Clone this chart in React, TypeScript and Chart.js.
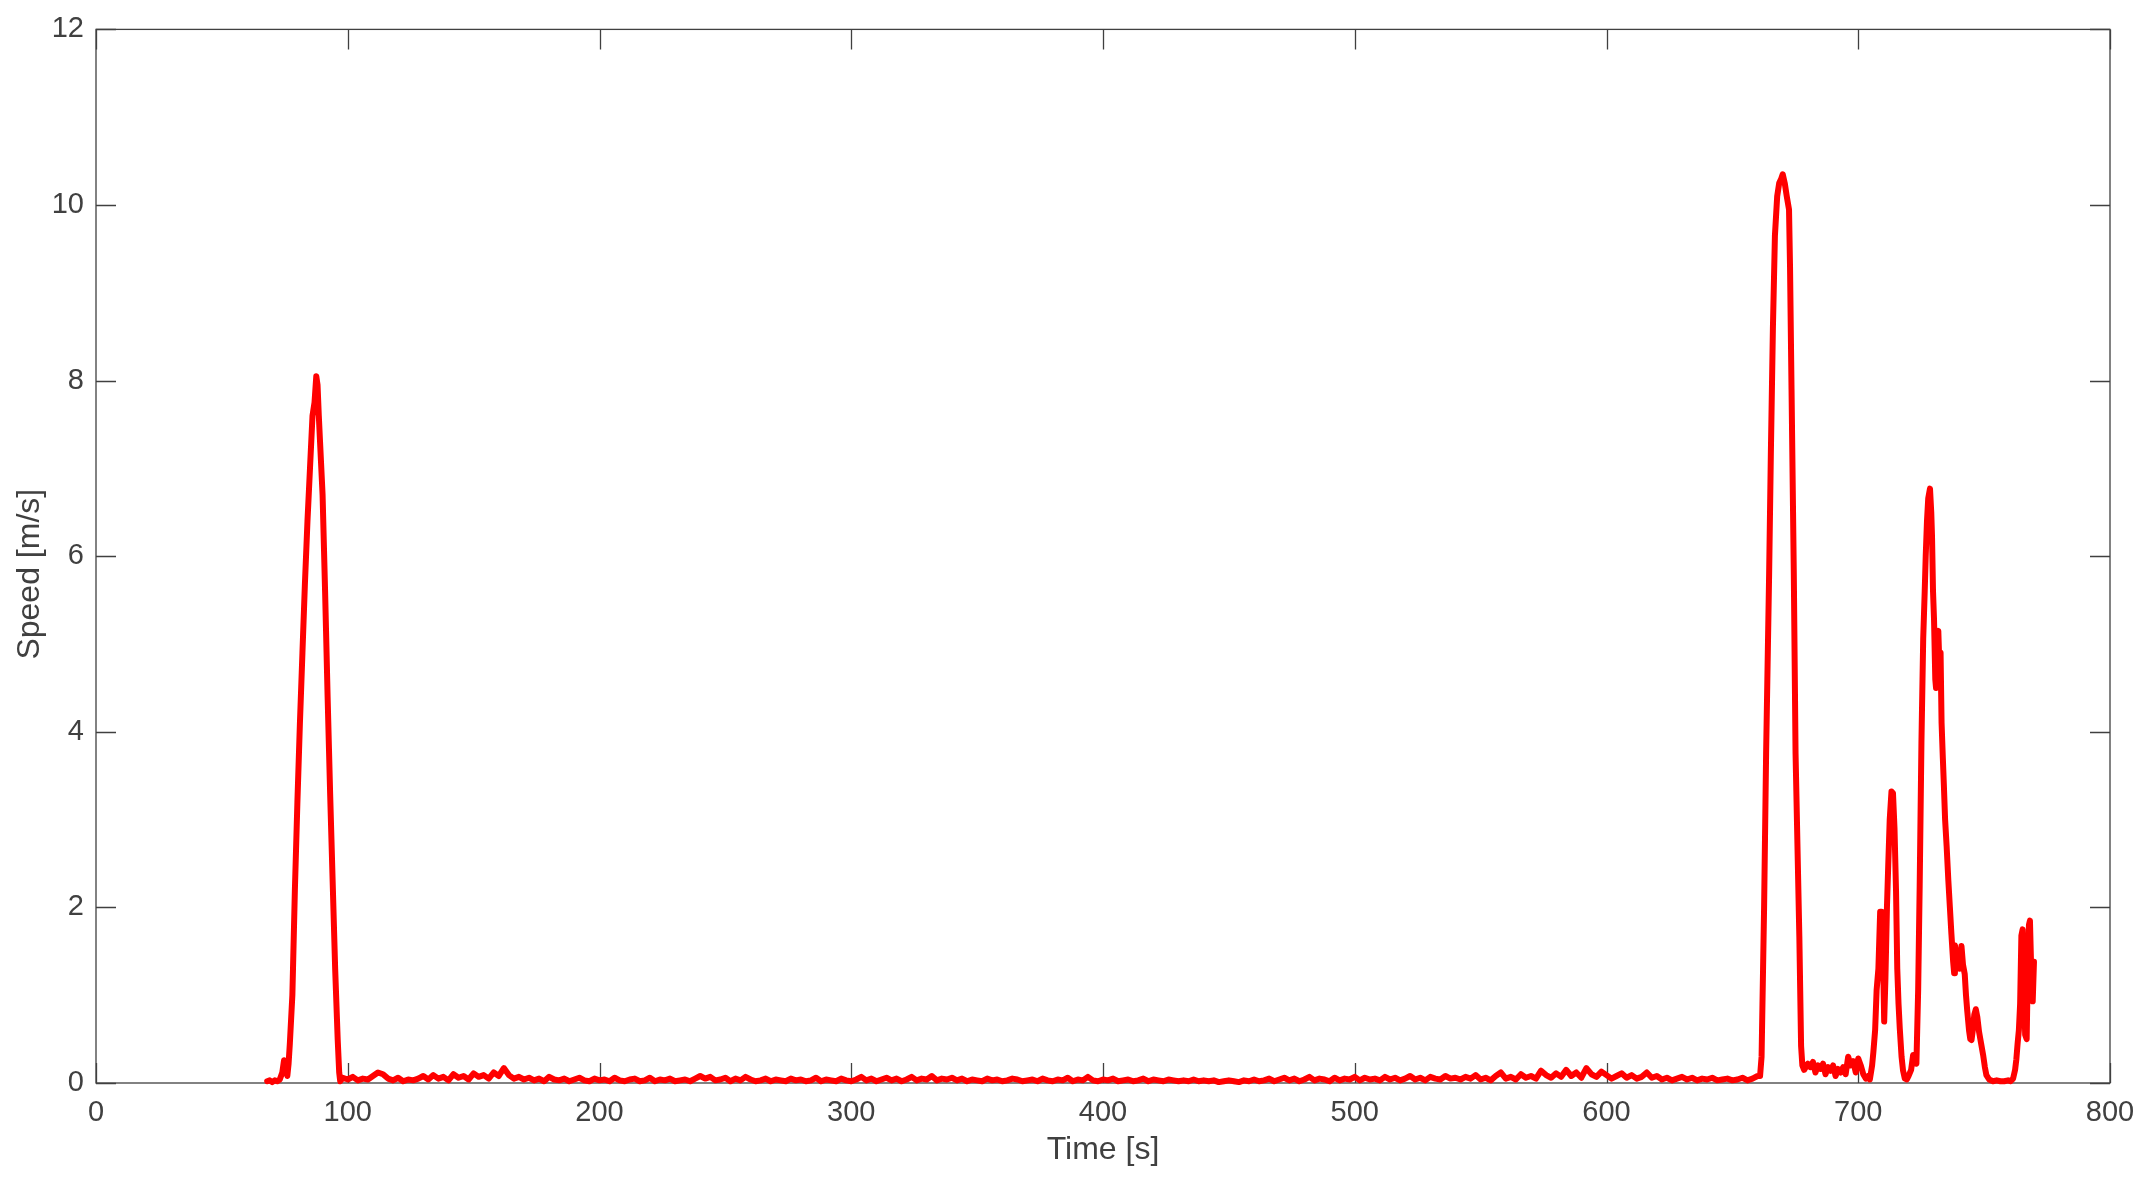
import React, { useEffect, useRef } from "react";
import { Chart, registerables } from "chart.js";

Chart.register(...registerables);

// ---- Data: [time (s), speed (m/s)] samples ----
const startSamples: [number, number][] = [
  [68, 0.02], [69, 0.03], [70, 0.01], [71, 0.03], [72, 0.02], [73, 0.04], [74, 0.12],
  [74.7, 0.26], [75.3, 0.18], [76, 0.08], [76.5, 0.22],
];

const firstPeak: [number, number][] = [
  [77, 0.45], [78, 1.0], [79, 2.2], [80, 3.2], [81, 4.1], [82, 4.9], [83, 5.7], [84, 6.4],
  [85, 7.0], [86, 7.6], [86.8, 7.75], [87.5, 8.05], [88, 7.95], [88.5, 7.6], [89, 7.3],
  [90, 6.7], [91, 5.6], [92, 4.4], [93, 3.3], [94, 2.3], [95, 1.3], [96, 0.5], [96.6, 0.12],
  [97, 0.02],
];

const floorTimes: number[] = [
  98, 100, 102, 104, 106, 108, 110, 112, 114, 116, 118, 120, 122, 124, 126, 128, 130,
  132, 134, 136, 138, 140, 142, 144, 146, 148, 150, 152, 154, 156, 158, 160, 162, 164, 166, 168, 170,
  172, 174, 176, 178, 180, 182, 184, 186, 188, 190, 192, 194, 196, 198, 200, 202, 204, 206, 208, 210,
  212, 214, 216, 218, 220, 222, 224, 226, 228, 230, 232, 234, 236, 238, 240,
  242, 244, 246, 248, 250, 252, 254, 256, 258, 260, 262, 264, 266, 268, 270, 272, 274, 276, 278, 280,
  282, 284, 286, 288, 290, 292, 294, 296, 298, 300, 302, 304, 306, 308, 310, 312, 314, 316, 318, 320,
  322, 324, 326, 328, 330, 332, 334, 336, 338, 340,
  342, 344, 346, 348, 350, 352, 354, 356, 358, 360, 362, 364, 366, 368, 370, 372, 374, 376, 378, 380,
  382, 384, 386, 388, 390, 392, 394, 396, 398, 400, 402, 404, 406, 408, 410, 412, 414, 416, 418, 420,
  422, 424, 426, 428, 430, 432, 434, 436, 438, 440,
  442, 444, 446, 448, 450, 452, 454, 456, 458, 460, 462, 464, 466, 468, 470, 472, 474, 476, 478, 480,
  482, 484, 486, 488, 490, 492, 494, 496, 498, 500, 502, 504, 506, 508, 510, 512, 514, 516, 518, 520,
  522, 524, 526, 528, 530, 532, 534, 536, 538, 540,
  542, 544, 546, 548, 550, 552, 554, 556, 558, 560, 562, 564, 566, 568, 570, 572, 574, 576, 578, 580,
  582, 584, 586, 588, 590, 592, 594, 596, 598, 600, 602, 604, 606, 608, 610, 612, 614, 616, 618, 620,
  622, 624, 626, 628, 630, 632, 634, 636, 638, 640, 642, 644, 646, 648, 650, 652, 654, 656, 658, 660,
];

const floorSpeeds: number[] = [
  0.06, 0.04, 0.07, 0.03, 0.05, 0.04, 0.08, 0.12, 0.10, 0.05, 0.03, 0.06, 0.02, 0.04, 0.03, 0.05, 0.08,
  0.04, 0.09, 0.05, 0.07, 0.03, 0.10, 0.06, 0.08, 0.04, 0.11, 0.07, 0.09, 0.05, 0.12, 0.08, 0.17, 0.09, 0.05, 0.07, 0.04,
  0.06, 0.03, 0.05, 0.02, 0.07, 0.04, 0.03, 0.05, 0.02, 0.04, 0.06, 0.03, 0.02, 0.05, 0.03, 0.04, 0.02, 0.06, 0.03, 0.02,
  0.04, 0.05, 0.02, 0.03, 0.06, 0.02, 0.04, 0.03, 0.05, 0.02, 0.03, 0.04, 0.02, 0.05, 0.08,
  0.05, 0.07, 0.03, 0.04, 0.06, 0.02, 0.05, 0.03, 0.07, 0.04, 0.02, 0.03, 0.05, 0.02, 0.04, 0.03, 0.02, 0.05, 0.03, 0.04,
  0.02, 0.03, 0.06, 0.02, 0.04, 0.03, 0.02, 0.05, 0.03, 0.02, 0.04, 0.07, 0.03, 0.05, 0.02, 0.04, 0.06, 0.03, 0.05, 0.02,
  0.04, 0.07, 0.03, 0.05, 0.04, 0.08, 0.03, 0.05, 0.04, 0.06,
  0.03, 0.05, 0.02, 0.04, 0.03, 0.02, 0.05, 0.03, 0.04, 0.02, 0.03, 0.05, 0.04, 0.02, 0.03, 0.04, 0.02, 0.05, 0.03, 0.02,
  0.04, 0.03, 0.06, 0.02, 0.04, 0.03, 0.07, 0.03, 0.02, 0.04, 0.03, 0.05, 0.02, 0.03, 0.04, 0.02, 0.03, 0.05, 0.02, 0.04,
  0.03, 0.02, 0.04, 0.03, 0.02, 0.03, 0.02, 0.04, 0.02, 0.03,
  0.02, 0.03, 0.01, 0.02, 0.03, 0.02, 0.01, 0.03, 0.02, 0.04, 0.02, 0.03, 0.05, 0.02, 0.04, 0.06, 0.03, 0.05, 0.02, 0.04,
  0.07, 0.03, 0.05, 0.04, 0.02, 0.06, 0.03, 0.05, 0.04, 0.07, 0.03, 0.06, 0.04, 0.05, 0.03, 0.07, 0.04, 0.06, 0.03, 0.05,
  0.08, 0.04, 0.06, 0.03, 0.07, 0.05, 0.04, 0.08, 0.05, 0.06,
  0.04, 0.07, 0.05, 0.09, 0.04, 0.06, 0.03, 0.08, 0.12, 0.05, 0.07, 0.04, 0.10, 0.06, 0.08, 0.05, 0.14, 0.09, 0.06, 0.11,
  0.07, 0.15, 0.08, 0.12, 0.06, 0.17, 0.10, 0.07, 0.13, 0.09, 0.05, 0.08, 0.11, 0.06, 0.09, 0.05, 0.07, 0.12, 0.06, 0.08,
  0.04, 0.06, 0.03, 0.05, 0.07, 0.04, 0.06, 0.03, 0.05, 0.04, 0.06, 0.03, 0.04, 0.05, 0.03, 0.04, 0.06, 0.03, 0.05, 0.08,
];

const secondPeak: [number, number][] = [
  [661, 0.08], [661.6, 0.3], [662.6, 2.0], [663.4, 3.75], [664.6, 5.8], [665.3, 7.2], [666.1, 8.6],
  [666.9, 9.65], [667.8, 10.1], [668.6, 10.25], [669.4, 10.3], [670, 10.35], [670.8, 10.25],
  [671.6, 10.1], [672.5, 9.95], [672.9, 9.3], [673.5, 7.9], [674.4, 5.8], [675.1, 3.75],
  [676.6, 1.67], [677.3, 0.42], [677.8, 0.2],
];

const afterPeakSamples: [number, number][] = [
  [678.5, 0.15], [680, 0.22], [681, 0.18], [682, 0.24], [683, 0.12], [684, 0.2], [685, 0.16],
  [686, 0.22], [687, 0.1], [688, 0.18], [689, 0.14], [690, 0.2], [691, 0.08], [692, 0.16],
  [693, 0.12], [694, 0.18], [695, 0.1], [696, 0.3], [697, 0.2], [698, 0.25], [699, 0.12],
  [700, 0.28], [701, 0.2], [702, 0.1], [703, 0.05], [704, 0.08], [704.6, 0.04],
];

const finalCluster: [number, number][] = [
  [705.5, 0.2], [706, 0.35], [706.7, 0.6], [707.3, 1.06], [708, 1.3], [708.7, 1.95], [709.3, 1.95],
  [709.8, 1.5], [710.3, 0.7], [710.8, 1.2], [711.4, 2.0], [711.9, 2.47], [712.5, 3.0], [713.2, 3.32],
  [713.8, 3.3], [714.4, 2.9], [715, 2.2], [715.5, 1.3], [716, 0.9], [716.5, 0.62], [717.2, 0.3],
  [717.8, 0.14], [718.5, 0.05], [719.3, 0.04], [720, 0.08], [721, 0.15], [721.8, 0.32], [722.5, 0.25],
  [723.1, 0.22], [723.8, 1.06], [724.4, 2.24], [725.1, 3.88], [725.8, 5.06], [726.4, 5.6], [726.8, 6.0],
  [727.3, 6.4], [727.8, 6.66], [728.5, 6.77], [729, 6.5], [729.3, 6.23], [729.7, 5.6], [730.1, 5.28],
  [730.6, 4.6], [730.9, 4.5], [731.4, 5.1], [731.8, 5.15], [732.3, 4.7], [732.7, 4.9], [733.1, 4.1],
  [733.6, 3.7], [734, 3.4], [734.5, 3.0], [735.1, 2.7], [735.8, 2.3], [736.4, 2.0], [737, 1.7],
  [737.7, 1.38], [738.1, 1.25], [738.4, 1.57], [739, 1.45], [739.7, 1.5], [740.3, 1.3], [741, 1.56],
  [741.6, 1.35], [742.3, 1.24], [742.8, 1.0], [743.3, 0.82], [744, 0.6], [744.5, 0.5], [745, 0.49],
  [745.5, 0.6], [746.1, 0.78], [746.7, 0.84], [747.3, 0.75], [748, 0.58], [748.8, 0.45], [749.6, 0.32],
  [750.3, 0.18], [750.9, 0.09], [752, 0.04], [753.5, 0.02], [755, 0.03], [756.5, 0.02], [758, 0.02],
  [759.5, 0.03], [760.5, 0.02], [761.5, 0.05], [762.3, 0.15], [762.8, 0.27], [763.3, 0.45],
  [763.8, 0.6], [764.3, 0.9], [764.8, 1.68], [765.3, 1.75], [765.8, 1.2], [766.3, 0.55], [766.9, 0.5],
  [767.3, 1.2], [767.8, 1.8], [768.2, 1.85], [768.7, 1.3], [769.3, 0.93], [769.8, 1.38],
];

const xTickLabels = ["0", "100", "200", "300", "400", "500", "600", "700", "800"];
const yTickLabels = ["0", "2", "4", "6", "8", "10", "12"];

const X_TITLE = "Time [s]";
const Y_TITLE = "Speed [m/s]";

const AXIS_COLOR = "#404040";
const LINE_COLOR = "#ff0000";
const FONT_FAMILY = "'Liberation Sans', Arial, Helvetica, sans-serif";
const TICK_LEN = 20;

const axesBoxPlugin = {
  id: "axesBox",
  beforeDatasetsDraw(chart: any) {
    const { ctx, chartArea } = chart;
    const { left, right, top, bottom } = chartArea;
    const xs = chart.scales.x;
    const ys = chart.scales.y;
    ctx.save();
    ctx.strokeStyle = AXIS_COLOR;
    ctx.lineWidth = 1.3;
    ctx.strokeRect(left, top, right - left, bottom - top);
    ctx.beginPath();
    xs.ticks.forEach((t: any) => {
      const px = Math.round(xs.getPixelForValue(t.value)) + 0.5;
      ctx.moveTo(px, bottom);
      ctx.lineTo(px, bottom - TICK_LEN);
      ctx.moveTo(px, top);
      ctx.lineTo(px, top + TICK_LEN);
    });
    ys.ticks.forEach((t: any) => {
      const py = Math.round(ys.getPixelForValue(t.value)) + 0.5;
      ctx.moveTo(left, py);
      ctx.lineTo(left + TICK_LEN, py);
      ctx.moveTo(right, py);
      ctx.lineTo(right - TICK_LEN, py);
    });
    ctx.stroke();

    // y-axis title, placed like the reference (slightly below the axis centre)
    ctx.save();
    ctx.translate(30, (top + bottom) / 2 + 18);
    ctx.rotate(-Math.PI / 2);
    ctx.fillStyle = AXIS_COLOR;
    ctx.font = `32px ${FONT_FAMILY}`;
    ctx.textAlign = "center";
    ctx.textBaseline = "middle";
    ctx.fillText(Y_TITLE, 0, 0);
    ctx.restore();

    ctx.restore();
  },
};

export default function App() {
  const canvasRef = useRef<HTMLCanvasElement | null>(null);

  useEffect(() => {
    const canvas = canvasRef.current;
    if (!canvas) return;

    const floorSamples: [number, number][] = floorTimes.map((t, i) => [t, floorSpeeds[i]]);
    const allSamples = [
      ...startSamples,
      ...firstPeak,
      ...floorSamples,
      ...secondPeak,
      ...afterPeakSamples,
      ...finalCluster,
    ];
    const points = allSamples.map(([x, y]) => ({ x, y }));

    const chart = new Chart(canvas, {
      type: "line",
      data: {
        datasets: [
          {
            data: points,
            borderColor: LINE_COLOR,
            borderWidth: 6,
            pointRadius: 0,
            tension: 0,
            fill: false,
            clip: 10,
            borderJoinStyle: "round",
            borderCapStyle: "round",
          } as any,
        ],
      },
      options: {
        responsive: false,
        animation: false,
        devicePixelRatio: 1,
        layout: { padding: { top: 24, right: 38, left: 0, bottom: 0 } },
        plugins: { legend: { display: false }, tooltip: { enabled: false } },
        scales: {
          x: {
            type: "linear",
            min: 0,
            max: 800,
            grid: { display: false, drawTicks: false },
            border: { display: false },
            ticks: {
              stepSize: 100,
              padding: 13,
              color: AXIS_COLOR,
              font: { family: FONT_FAMILY, size: 29 },
              maxRotation: 0,
              callback: (v: any) => {
                const idx = Math.round(Number(v) / 100);
                return xTickLabels[idx] ?? String(v);
              },
            },
            title: {
              display: true,
              text: X_TITLE,
              color: AXIS_COLOR,
              font: { family: FONT_FAMILY, size: 32 },
              padding: { top: 0, bottom: 14 },
            },
            afterFit: (scale: any) => {
              scale.height = 100;
            },
          },
          y: {
            type: "linear",
            min: 0,
            max: 12,
            grid: { display: false, drawTicks: false },
            border: { display: false },
            ticks: {
              stepSize: 2,
              padding: 12,
              color: AXIS_COLOR,
              font: { family: FONT_FAMILY, size: 29 },
              callback: (v: any) => {
                const idx = Math.round(Number(v) / 2);
                return yTickLabels[idx] ?? String(v);
              },
            },
            title: { display: false },
            afterFit: (scale: any) => {
              scale.width = 96;
            },
          },
        },
      },
      plugins: [axesBoxPlugin],
    });

    return () => {
      chart.destroy();
    };
  }, []);

  return (
    <div
      style={{
        position: "fixed",
        left: 0,
        top: 0,
        width: 2148,
        height: 1183,
        background: "#ffffff",
      }}
    >
      <canvas ref={canvasRef} width={2148} height={1183} style={{ display: "block" }} />
    </div>
  );
}
